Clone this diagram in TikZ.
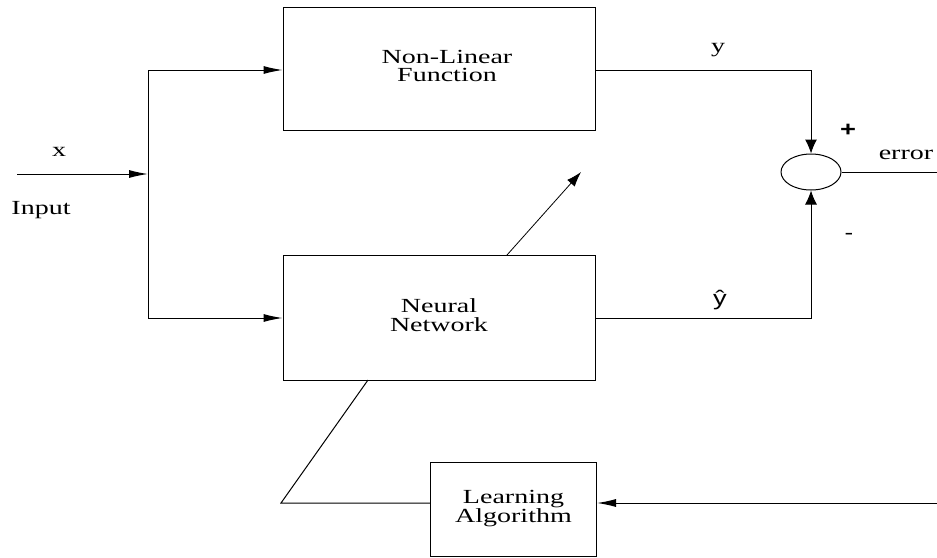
\documentclass[tikz,border=0pt]{standalone}
\usepackage{fontspec}
\usepackage{graphicx}
\setmainfont{Liberation Serif}
\newfontfamily\signfont{Liberation Sans}
\usetikzlibrary{arrows.meta,shapes.geometric}

% wide-set text used throughout the block diagram
\newcommand{\stretchtext}[1]{\scalebox{1.4}[1]{\fontsize{20}{18}\selectfont\begin{tabular}{@{}c@{}}#1\end{tabular}}}
\newcommand{\signtext}[2]{\scalebox{1.3}[1]{\signfont\fontsize{#1}{#1}\selectfont #2}}

\begin{document}
\begin{tikzpicture}[x=1pt,y=-1pt,
  line width=1pt,
  harr/.style={-{Latex[length=19pt,width=8pt]}},
  varr/.style={-{Latex[length=14pt,width=12pt]}},
  darr/.style={-{Latex[length=15pt,width=10pt]}},
  block/.style={draw,rectangle,inner sep=0pt},
  lbl/.style={inner sep=0pt}]
\useasboundingbox (0,0) rectangle (937,557);

% blocks
\node[block,minimum width=312pt,minimum height=123pt] (nl) at (439,68.5)
  {\hspace*{16pt}\raisebox{-3pt}{\stretchtext{Non-Linear\\Function}}};
\node[block,minimum width=312pt,minimum height=125pt] (nn) at (439,317.5)
  {\raisebox{2pt}{\stretchtext{Neural\\Network}}};
\node[block,minimum width=166pt,minimum height=94pt] (la) at (513.5,509)
  {\stretchtext{Learning\\Algorithm}};
\node[draw,ellipse,minimum width=60pt,minimum height=36pt,inner sep=0pt] (sum) at (811,172) {};

% routing points
\coordinate (in) at (17,174);
\coordinate (split) at (148,174);
\coordinate (splitT) at (148,70);
\coordinate (splitB) at (148,318);
\coordinate (ycorner) at (811,70);
\coordinate (yhcorner) at (811,318);
\coordinate (errend) at (937,172);
\coordinate (fbin) at (937,503);
\coordinate (fbcorner) at (281,503);
\coordinate (nnfoot) at (368,380);
\coordinate (tunebase) at (507,255);
\coordinate (tunetip) at (581,172);

% input distribution
\draw[harr] (in) -- (split);
\draw (splitT) -- (splitB);
\draw[harr] (splitT) -- (nl.west |- splitT);
\draw[harr] (splitB) -- (nn.west |- splitB);

% outputs to the comparator
\draw[varr] (nl.east |- ycorner) -- (ycorner) -- (sum.north);
\draw[varr] (nn.east |- yhcorner) -- (yhcorner) -- (sum.south);
\draw (sum.east) -- (errend);

% learning loop
\draw[harr] (fbin) -- (la.east |- fbin);
\draw (la.west |- fbin) -- (fbcorner) -- (nnfoot);
\draw[darr,line width=0.8pt] (tunebase) -- (tunetip);

% labels
\node[lbl] (xl) at (59,153) {\stretchtext{x}};
\node[lbl] (inl) at (41,211) {\stretchtext{Input}};
\node[lbl] (yl) at (718,49) {\stretchtext{y}};
\node[lbl] (yhl) at (720,300) {\signtext{21}{ŷ}};
\node[lbl] (plus) at (848,130) {\signtext{21}{\bfseries +}};
\node[lbl] (minus) at (849,236) {\signtext{20}{-}};
\node[lbl] (errl) at (906,156) {\stretchtext{error}};
\end{tikzpicture}
\end{document}
